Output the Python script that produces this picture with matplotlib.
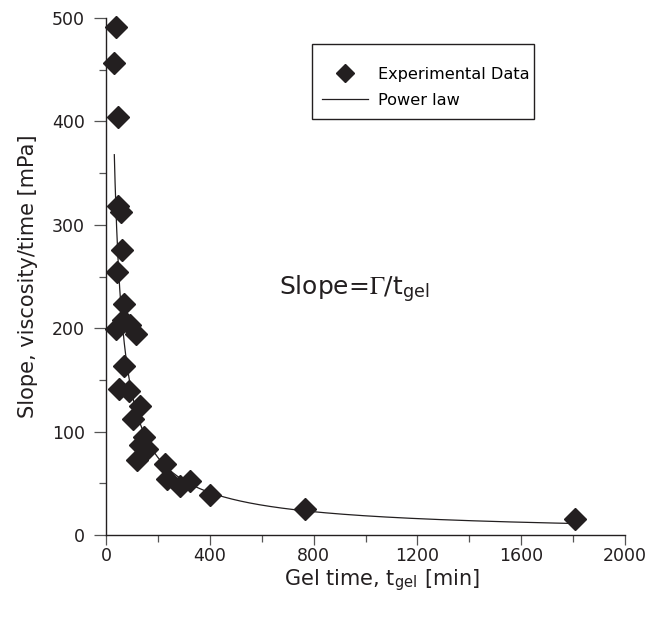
import numpy as np
import matplotlib
matplotlib.use('Agg')
import matplotlib.pyplot as plt
from matplotlib.patches import Rectangle

gel_time = [37, 32, 45, 45, 58, 60, 41, 70, 67, 38, 92, 115,
            70, 51, 90, 131, 105, 147, 131, 159, 118,
            227, 236, 287, 323, 400, 765, 1806]
slope = [491, 457, 404, 318, 312, 276, 254, 223, 208, 199, 203, 194,
         163, 141, 139, 125, 112, 95, 87, 83, 73,
         69, 54, 47, 52, 39, 25, 15]

# Power law fit: slope = a * t^-b
fit_a = 7450
fit_b = 0.868
fit_start = 32
fit_end = 1806

x_ticks = [0, 400, 800, 1200, 1600, 2000]
y_ticks = [0, 100, 200, 300, 400, 500]

dark = '#231f20'
plt.rcParams['font.family'] = 'DejaVu Sans'
plt.rcParams['mathtext.fontset'] = 'stix'

fig = plt.figure(figsize=(6.48, 6.22), dpi=100)
ax = fig.add_axes([0.1636, 0.1399, 0.801, 0.831])

t_fit = np.linspace(fit_start, fit_end, 600)
ax.plot(t_fit, fit_a * t_fit ** (-fit_b), color=dark, lw=0.9, label='Power law', zorder=2)
ax.plot(gel_time, slope, linestyle='none', marker='D', markersize=11,
        color=dark, label='Experimental Data', zorder=3, clip_on=False)

ax.set_xlim(0, 2000)
ax.set_ylim(0, 500)
ax.set_xticks(x_ticks)
ax.set_yticks(y_ticks)
ax.set_xticks(np.arange(200, 2000, 400), minor=True)
ax.set_yticks(np.arange(50, 500, 100), minor=True)

for s in ['top', 'right']:
    ax.spines[s].set_visible(False)
for s in ['left', 'bottom']:
    ax.spines[s].set_color(dark)
    ax.spines[s].set_linewidth(1.0)

ax.tick_params(which='major', direction='out', width=0.9, color='#555555',
               labelsize=12.5, labelcolor=dark)
ax.tick_params(axis='y', which='major', length=9, pad=6)
ax.tick_params(axis='x', which='major', length=7, pad=2)
ax.tick_params(which='minor', direction='out', length=5, width=0.9, color='#555555')

ax.set_xlabel('Gel time, t$_{\\mathregular{gel}}$ [min]', fontsize=15, color=dark)
ax.xaxis.set_label_coords(0.532, -0.062)
ax.set_ylabel('Slope, viscosity/time [mPa]', fontsize=15, color=dark, labelpad=10)

ax.text(668, 232, 'Slope=$\\Gamma$/t$_{\\mathregular{gel}}$', fontsize=18, color=dark)

# legend without frame, box drawn separately to match the uneven padding
handles, labels = ax.get_legend_handles_labels()
leg = ax.legend(handles[::-1], labels[::-1], loc='upper left', bbox_to_anchor=(0.416, 0.906),
                fontsize=11.6, frameon=False, borderpad=0, handlelength=2.85,
                handletextpad=0.6, labelspacing=0.7, borderaxespad=0)
for h in leg.get_lines():
    if h.get_marker() == 'D':
        h.set_markersize(9)
ax.add_patch(Rectangle((0.397, 0.8046), 0.4277, 0.1454, transform=ax.transAxes,
                       fill=False, edgecolor=dark, lw=1.0, clip_on=False))

fig.savefig('out.png', dpi=100)
